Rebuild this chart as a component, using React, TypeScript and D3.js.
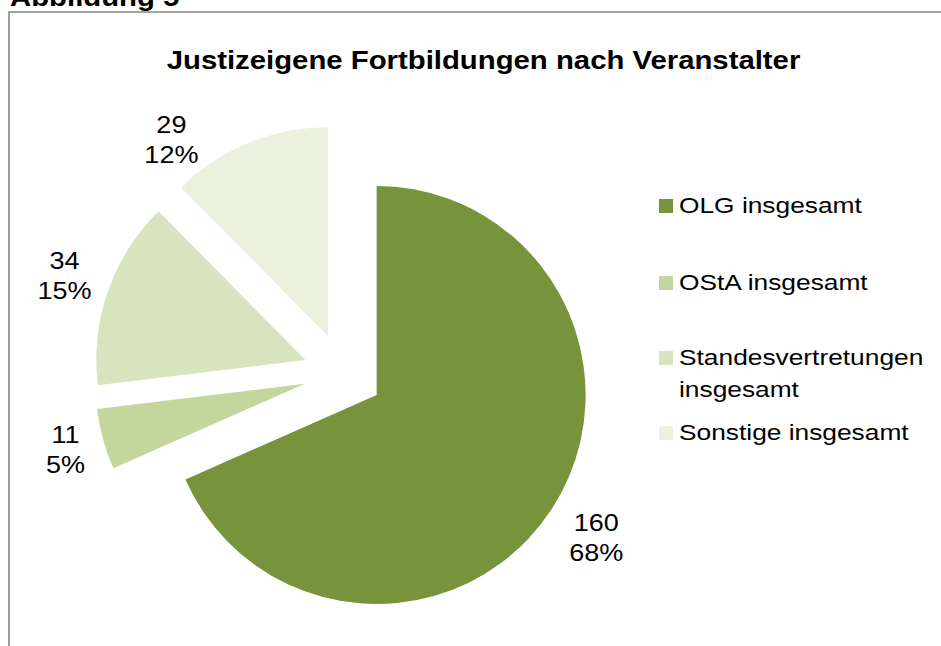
import React from "react";
import * as d3 from "d3";

const categories = ["OLG insgesamt", "OStA insgesamt", "Standesvertretungen insgesamt", "Sonstige insgesamt"];
const legendLines = [["OLG insgesamt"], ["OStA insgesamt"], ["Standesvertretungen", "insgesamt"], ["Sonstige insgesamt"]];
const values = [160, 11, 34, 29];
const colors = ["#77933C", "#C3D69B", "#D7E4BD", "#EBF1DE"];
const title = "Justizeigene Fortbildungen nach Veranstalter";
const caption = "Abbildung 5";

// layout (not data)
const W = 941, H = 646;
const CX = 343.1, CY = 373.2, R = 209, EXPLODE = 40;
const labelRadius = [302, 288, 295, 290];
const labelAngleShift = [0, 0, 0, -14];
const legendBaselines = [213, 290, 365, 440];
const SX = 1.15;
const FONT = "Arial, 'Liberation Sans', sans-serif";

export default function App() {
  const total = d3.sum(values);
  const pie = d3.pie<number>().sort(null).value((d) => d).startAngle(0).endAngle(2 * Math.PI);
  const arcs = pie(values);
  const arc = d3.arc<d3.PieArcDatum<number>>().innerRadius(0).outerRadius(R);

  return (
    <svg width={W} height={H} style={{ position: "absolute", left: 0, top: 0, background: "#fff" }} fontFamily={FONT}>
      <rect x={0} y={0} width={W} height={H} fill="#fff" />
      <text transform={`translate(10,6) scale(${SX},1)`} fontSize={25.5} fontWeight="bold" fill="#000">{caption}</text>
      <path d={`M${W + 5},12 H9 V${H + 5}`} fill="none" stroke="#878787" strokeWidth={1.6} />
      <text transform={`translate(483.5,69) scale(${SX},1)`} textAnchor="middle" fontSize={25.5} fontWeight="bold" fill="#000">{title}</text>
      {arcs.map((a, i) => {
        const mid = (a.startAngle + a.endAngle) / 2;
        const ox = CX + EXPLODE * Math.sin(mid);
        const oy = CY - EXPLODE * Math.cos(mid);
        return <path key={categories[i]} d={arc(a) || ""} transform={`translate(${ox},${oy})`} fill={colors[i]} />;
      })}
      {arcs.map((a, i) => {
        const mid = (a.startAngle + a.endAngle) / 2 + (labelAngleShift[i] * Math.PI) / 180;
        const lx = CX + labelRadius[i] * Math.sin(mid);
        const ly = CY - labelRadius[i] * Math.cos(mid);
        const pct = Math.round((values[i] / total) * 100);
        return (
          <g key={"l" + i} transform={`translate(${lx},${ly}) scale(${SX},1)`} fontSize={23.5} fill="#000" textAnchor="middle">
            <text x={0} y={-7}>{values[i]}</text>
            <text x={0} y={23}>{pct}%</text>
          </g>
        );
      })}
      {legendLines.map((lines, i) => (
        <g key={"lg" + i}>
          <rect x={659} y={legendBaselines[i] - 14} width={14} height={14} fill={colors[i]} />
          {lines.map((t, j) => (
            <text key={j} transform={`translate(679,${legendBaselines[i] + j * 32}) scale(${SX},1)`} fontSize={22.9} fill="#000">{t}</text>
          ))}
        </g>
      ))}
    </svg>
  );
}
